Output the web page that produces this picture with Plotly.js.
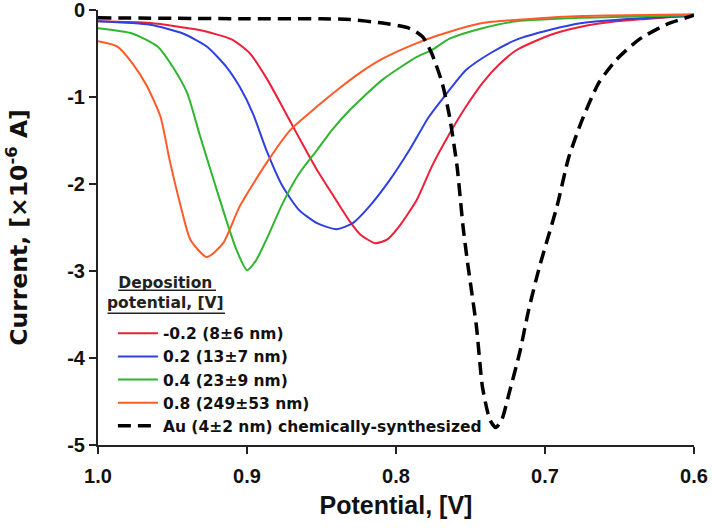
<!DOCTYPE html>
<html>
<head>
<meta charset="utf-8">
<script src="https://cdn.plot.ly/plotly-3.0.1.min.js"></script>
<style>html,body{margin:0;padding:0;background:#fff;}#chart{width:712px;height:532px;}</style>
</head>
<body>
<div id="chart"></div>
<script>
// Series names
const seriesNames = ["-0.2 (8±6 nm)", "0.2 (13±7 nm)", "0.4 (23±9 nm)", "0.8 (249±53 nm)", "Au (4±2 nm) chemically-synthesized"];
const legendTitleLines = ["Deposition", "potential, [V]"];

// -0.2 V (red)
const redX = [1.0, 0.965, 0.932, 0.91, 0.898, 0.887, 0.876, 0.865, 0.853, 0.843, 0.831, 0.824, 0.814, 0.806, 0.798, 0.786, 0.776, 0.764, 0.753, 0.742, 0.731, 0.719, 0.697, 0.675, 0.652, 0.63, 0.6];
const redY = [-0.13, -0.15, -0.23, -0.34, -0.5, -0.78, -1.12, -1.47, -1.84, -2.11, -2.43, -2.58, -2.68, -2.64, -2.49, -2.18, -1.8, -1.42, -1.11, -0.84, -0.63, -0.46, -0.29, -0.19, -0.13, -0.1, -0.06];

// 0.2 V (blue)
const blueX = [1.0, 0.965, 0.943, 0.927, 0.914, 0.905, 0.896, 0.887, 0.876, 0.865, 0.853, 0.84, 0.829, 0.818, 0.804, 0.791, 0.778, 0.766, 0.753, 0.737, 0.719, 0.697, 0.675, 0.641, 0.6];
const blueY = [-0.13, -0.17, -0.27, -0.42, -0.65, -0.88, -1.19, -1.61, -2.03, -2.3, -2.45, -2.52, -2.45, -2.26, -1.95, -1.61, -1.23, -0.96, -0.69, -0.5, -0.34, -0.23, -0.15, -0.1, -0.07];

// 0.4 V (green)
const greenX = [1.0, 0.977, 0.96, 0.95, 0.94, 0.932, 0.923, 0.914, 0.907, 0.9, 0.894, 0.887, 0.876, 0.865, 0.853, 0.843, 0.831, 0.809, 0.786, 0.776, 0.764, 0.742, 0.719, 0.675, 0.6];
const greenY = [-0.21, -0.27, -0.42, -0.65, -0.96, -1.42, -1.92, -2.41, -2.76, -2.99, -2.88, -2.64, -2.22, -1.88, -1.61, -1.38, -1.15, -0.8, -0.54, -0.46, -0.33, -0.21, -0.13, -0.09, -0.06];

// 0.8 V (orange)
const orangeX = [1.0, 0.987, 0.977, 0.967, 0.958, 0.952, 0.945, 0.938, 0.927, 0.916, 0.905, 0.887, 0.871, 0.853, 0.838, 0.824, 0.809, 0.786, 0.764, 0.742, 0.708, 0.675, 0.6];
const orangeY = [-0.36, -0.42, -0.61, -0.88, -1.23, -1.72, -2.22, -2.64, -2.84, -2.68, -2.26, -1.76, -1.38, -1.11, -0.9, -0.72, -0.56, -0.38, -0.25, -0.15, -0.1, -0.07, -0.05];

// Au chemically synthesized (black dashed)
const auX = [1.0, 0.9, 0.85, 0.831, 0.809, 0.791, 0.782, 0.776, 0.769, 0.764, 0.759, 0.755, 0.752, 0.746, 0.742, 0.737, 0.733, 0.729, 0.724, 0.717, 0.711, 0.704, 0.692, 0.684, 0.675, 0.664, 0.652, 0.637, 0.619, 0.6];
const auY = [-0.09, -0.1, -0.1, -0.11, -0.15, -0.21, -0.31, -0.5, -0.84, -1.23, -1.8, -2.49, -2.9, -3.64, -4.33, -4.71, -4.8, -4.71, -4.4, -3.94, -3.45, -2.97, -2.26, -1.69, -1.26, -0.84, -0.57, -0.34, -0.17, -0.06];

const xTickVals = [1.0, 0.9, 0.8, 0.7, 0.6];
const xTickText = ["1.0", "0.9", "0.8", "0.7", "0.6"];
const yTickVals = [0, -1, -2, -3, -4, -5];
const yTickText = ["0", "-1", "-2", "-3", "-4", "-5"];

const F = "Liberation Sans, Arial, sans-serif";
const FL = "DejaVu Sans, Liberation Sans, sans-serif";

function tr(x, y, name, color, width, dash) {
  return {x: x, y: y, name: name, type: "scatter", mode: "lines",
    line: {color: color, width: width, dash: dash || "solid", shape: "spline", smoothing: 0.6}};
}

const data = [
  tr(redX, redY, seriesNames[0], "#ec2039", 2),
  tr(blueX, blueY, seriesNames[1], "#2f40e0", 2),
  tr(greenX, greenY, seriesNames[2], "#30b530", 2),
  tr(orangeX, orangeY, seriesNames[3], "#ff5a28", 2),
  tr(auX, auY, seriesNames[4], "#000000", 3.5, "13px,7px")
];

// legend-title underlines (decoration, paper coordinates)
function uline(x0, x1, y) {
  return {type: "line", xref: "paper", yref: "paper", x0: x0, x1: x1, y0: y, y1: y,
    line: {color: "#222", width: 1.5}};
}

const layout = {
  width: 712, height: 532,
  margin: {l: 98, r: 18, t: 10, b: 87},
  paper_bgcolor: "#fff", plot_bgcolor: "#fff",
  font: {family: F, color: "#111"},
  showlegend: true,
  legend: {
    x: 0.025, y: 0.295, xanchor: "left", yanchor: "top",
    bgcolor: "rgba(0,0,0,0)", borderwidth: 0,
    font: {family: FL, size: 15.5, color: "#111", weight: "bold"},
    tracegroupgap: 0, itemwidth: 40
  },
  annotations: [{
    xref: "paper", yref: "paper", x: 0.114, y: 0.398, xanchor: "center", yanchor: "top",
    text: "<b>" + legendTitleLines.join("<br>") + "</b>",
    showarrow: false, align: "center",
    font: {family: FL, size: 15.5, color: "#222"}
  }],
  shapes: [uline(0.034, 0.198, 0.356), uline(0.016, 0.213, 0.303)],
  xaxis: {
    range: [1.0, 0.6], tickvals: xTickVals, ticktext: xTickText,
    showgrid: false, zeroline: false, showline: true, linecolor: "#222", linewidth: 2,
    ticks: "outside", ticklen: 7, tickwidth: 2, tickcolor: "#222",
    ticklabelstandoff: 5,
    tickfont: {family: F, size: 20, color: "#111", weight: "bold"},
    title: {text: "<b>Potential, [V]</b>", font: {family: F, size: 25, color: "#111"}, standoff: 10}
  },
  yaxis: {
    range: [-5, 0], tickvals: yTickVals, ticktext: yTickText,
    showgrid: false, zeroline: false, showline: true, linecolor: "#222", linewidth: 2,
    ticks: "outside", ticklen: 7, tickwidth: 2, tickcolor: "#222",
    ticklabeloverflow: "allow",
    tickfont: {family: F, size: 20, color: "#111", weight: "bold"},
    title: {text: "<b>Current, [×10<sup>-6</sup> A]</b>", font: {family: FL, size: 23.5, color: "#111"}, standoff: 33}
  }
};

Plotly.newPlot("chart", data, layout, {displayModeBar: false, staticPlot: true});
</script>
</body>
</html>
